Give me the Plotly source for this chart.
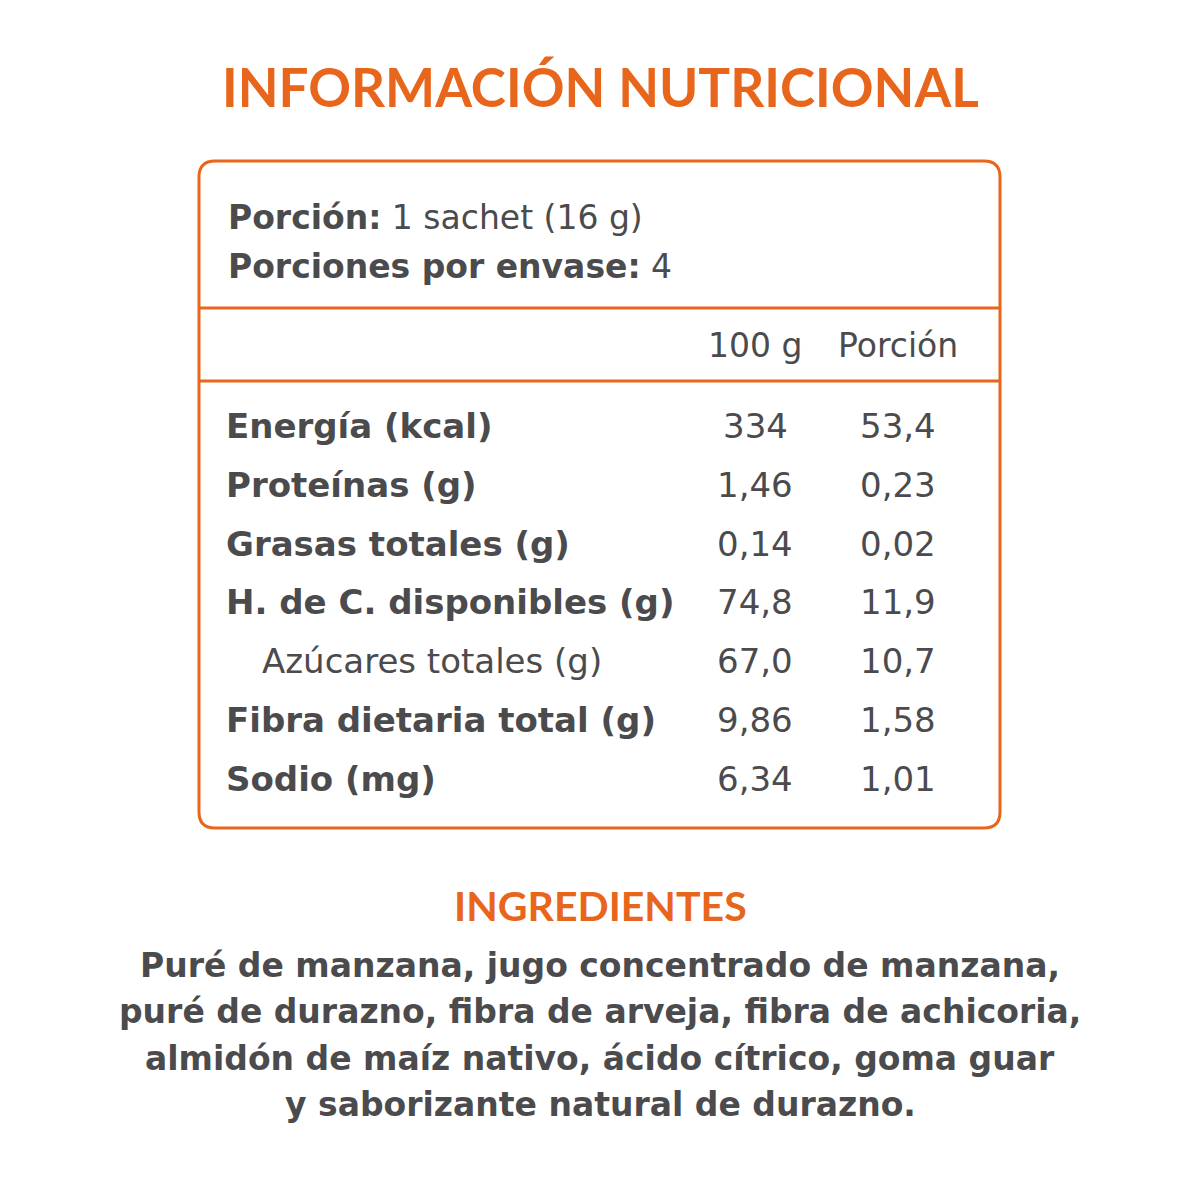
import plotly.graph_objects as go

# Data
title = "INFORMACIÓN NUTRICIONAL"
porcion = "1 sachet (16 g)"
porciones_envase = "4"
col_headers = ["100 g", "Porción"]
nutrients = ["Energía (kcal)", "Proteínas (g)", "Grasas totales (g)", "H. de C. disponibles (g)",
             "Azúcares totales (g)", "Fibra dietaria total (g)", "Sodio (mg)"]
per_100g = ["334", "1,46", "0,14", "74,8", "67,0", "9,86", "6,34"]
per_portion = ["53,4", "0,23", "0,02", "11,9", "10,7", "1,58", "1,01"]
sub_rows = [False, False, False, False, True, False, False]
ing_title = "INGREDIENTES"
ing_lines = ["Puré de manzana, jugo concentrado de manzana,",
             "puré de durazno, fibra de arveja, fibra de achicoria,",
             "almidón de maíz nativo, ácido cítrico, goma guar",
             "y saborizante natural de durazno."]

ORANGE = "#E8661B"
GRAY = "#4b4b4d"
TFONT = "Lato"
BFONT = "DejaVu Sans"

fig = go.Figure()
# page body has an 8px margin, so shift the ranges to keep pixel coordinates
fig.update_layout(
    width=1200, height=1200, margin=dict(l=0, r=0, t=0, b=0),
    plot_bgcolor="white", paper_bgcolor="white", showlegend=False,
    xaxis=dict(range=[8, 1208], visible=False, fixedrange=True),
    yaxis=dict(range=[1208, 8], visible=False, fixedrange=True),
)

# box
x0, x1, y0, y1, r = 199, 1000, 161, 828, 16
path = (f"M {x0+r},{y0} L {x1-r},{y0} Q {x1},{y0} {x1},{y0+r} L {x1},{y1-r} Q {x1},{y1} {x1-r},{y1} "
        f"L {x0+r},{y1} Q {x0},{y1} {x0},{y1-r} L {x0},{y0+r} Q {x0},{y0} {x0+r},{y0} Z")
fig.add_shape(type="path", path=path, line=dict(color=ORANGE, width=3))
for yl in [308, 381]:
    fig.add_shape(type="line", x0=x0, x1=x1, y0=yl, y1=yl, line=dict(color=ORANGE, width=3))

def txt(x, y, s, size, color=GRAY, anchor="left", bold=False, font=BFONT):
    if bold:
        s = "<b>" + s + "</b>"
    fig.add_annotation(x=x, y=y, text=s, showarrow=False, xanchor=anchor, yanchor="middle",
                       font=dict(family=font, size=size, color=color))

txt(600, 86, title, 53, ORANGE, "center", True, TFONT)
txt(226, 217, "<b>Porción:</b> " + porcion, 33)
txt(226, 266, "<b>Porciones por envase:</b> " + porciones_envase, 33)
txt(755, 345, col_headers[0], 33, anchor="center")
txt(898, 345, col_headers[1], 33, anchor="center")

for i, name in enumerate(nutrients):
    y = 426 + i * 58.8
    if sub_rows[i]:
        txt(260, y, name, 34)
    else:
        txt(224, y, name, 34, bold=True)
    txt(755, y, per_100g[i], 34, anchor="center")
    txt(898, y, per_portion[i], 34, anchor="center")

txt(600, 905, ing_title, 41, ORANGE, "center", True, TFONT)
for i, line in enumerate(ing_lines):
    txt(600, 965 + i * 46.5, line, 33, anchor="center", bold=True)

fig.write_html("out.html")
